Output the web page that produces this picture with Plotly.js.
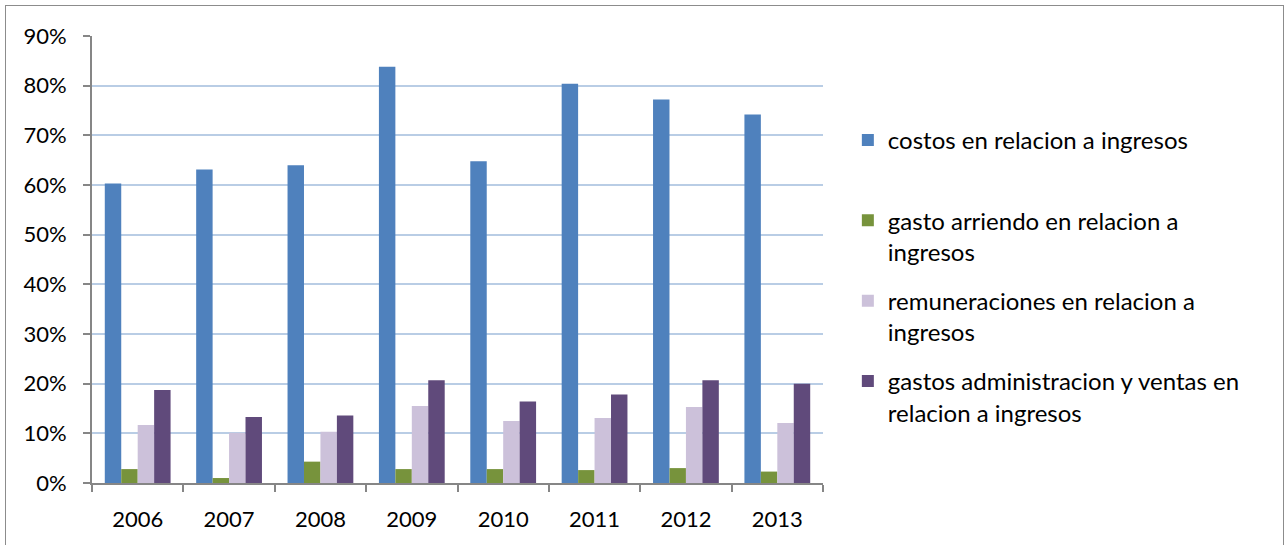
<!DOCTYPE html>
<html>
<head>
<meta charset="utf-8">
<script src="https://cdn.plot.ly/plotly-3.0.1.min.js"></script>
<style>
  html, body { margin: 0; padding: 0; background: #fff; }
  #frame { position: absolute; left: 5px; top: 5px; width: 1279px; height: 560px; border: 1px solid #8c8c8c; box-sizing: border-box; }
  #chart { position: absolute; left: 0; top: 0; width: 1287px; height: 545px; }
</style>
</head>
<body>
<div id="frame"></div>
<div id="chart"></div>
<script>
const years = ['2006', '2007', '2008', '2009', '2010', '2011', '2012', '2013'];
const costos = [0.603, 0.631, 0.640, 0.838, 0.648, 0.804, 0.772, 0.742];
const arriendo = [0.028, 0.010, 0.043, 0.028, 0.028, 0.026, 0.030, 0.023];
const remuneraciones = [0.117, 0.101, 0.103, 0.155, 0.125, 0.131, 0.153, 0.121];
const gastosAdm = [0.187, 0.133, 0.136, 0.207, 0.164, 0.178, 0.207, 0.200];
const seriesNames = [
  'costos en relacion a ingresos<br> ',
  'gasto arriendo en relacion a<br>ingresos',
  'remuneraciones en relacion a<br>ingresos',
  'gastos administracion y ventas en<br>relacion a ingresos'
];
const seriesValues = [costos, arriendo, remuneraciones, gastosAdm];
const seriesColors = ['#4f81bd', '#77933c', '#ccc1da', '#604a7b'];

const traces = seriesValues.map((vals, i) => ({
  type: 'bar',
  x: years,
  y: vals,
  name: seriesNames[i],
  legendgroup: 'g' + i,
  marker: { color: seriesColors[i], line: { width: 0 } },
  hoverinfo: 'x+y'
}));

const layout = {
  width: 1287,
  height: 545,
  margin: { l: 92, r: 464, t: 36, b: 62 },
  paper_bgcolor: 'rgba(0,0,0,0)',
  plot_bgcolor: 'rgba(0,0,0,0)',
  font: { family: 'Lato, "Noto Sans", sans-serif', size: 22, color: '#000' },
  barmode: 'group',
  bargap: 0.28,
  bargroupgap: 0,
  xaxis: {
    type: 'category',
    showline: true,
    linecolor: '#868686',
    linewidth: 2,
    ticks: 'outside',
    tickson: 'boundaries',
    ticklen: 7,
    tickcolor: '#868686',
    tickwidth: 2,
    showgrid: false,
    tickfont: { size: 22 },
    ticklabelstandoff: 16,
    fixedrange: true
  },
  yaxis: {
    range: [0, 0.9],
    dtick: 0.1,
    tickformat: '.0%',
    showline: true,
    linecolor: '#868686',
    linewidth: 2,
    ticks: 'outside',
    ticklen: 7,
    tickcolor: '#868686',
    tickwidth: 2,
    gridcolor: '#b9cde5',
    gridwidth: 2,
    zeroline: false,
    tickfont: { size: 22 },
    ticklabelstandoff: 12,
    fixedrange: true
  },
  legend: {
    x: 1.034,
    xanchor: 'left',
    y: 0.817,
    yanchor: 'top',
    valign: 'top',
    tracegroupgap: 15,
    traceorder: 'grouped',
    font: { size: 24 },
    bgcolor: 'rgba(0,0,0,0)'
  },
  showlegend: true
};

Plotly.newPlot('chart', traces, layout, { displayModeBar: false });
</script>
</body>
</html>
